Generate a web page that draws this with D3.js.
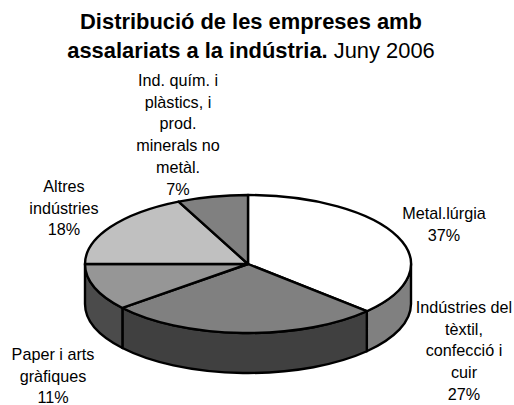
<!DOCTYPE html>
<html>
<head>
<meta charset="utf-8">
<script src="https://cdn.jsdelivr.net/npm/d3@7"></script>
<style>
  html, body { margin: 0; padding: 0; background: #fff; }
  text { font-family: "Liberation Sans", Arial, sans-serif; fill: #000; }
</style>
</head>
<body>
<svg id="vis" width="514" height="405"></svg>
<script>
const categories = ["Metal.lúrgia", "Indústries del tèxtil, confecció i cuir", "Paper i arts gràfiques", "Altres indústries", "Ind. quím. i plàstics, i prod. minerals no metàl."];
const values = [37, 27, 11, 18, 7];
const labelLines = [
  ["Metal.lúrgia", "37%"],
  ["Indústries del", "tèxtil,", "confecció i", "cuir", "27%"],
  ["Paper i arts", "gràfiques", "11%"],
  ["Altres", "indústries", "18%"],
  ["Ind. quím. i", "plàstics, i", "prod.", "minerals no", "metàl.", "7%"]
];
const topColors = ["#ffffff", "#808080", "#969696", "#c0c0c0", "#808080"];
const sideColors = ["#808080", "#404040", "#4b4b4b", "#606060", "#404040"];

const svg = d3.select("#vis");
const cx = 248, cy = 264, rx = 163, ry = 69, depth = 40;

const pie = d3.pie().sort(null).value(d => d);
const slices = pie(values);

function px(a) { return cx + rx * Math.sin(a); }
function py(a) { return cy - ry * Math.cos(a); }

// walls first, only the part of each slice facing the viewer
const walls = svg.append("g");
slices.forEach((s, i) => {
  let a0 = Math.max(s.startAngle, Math.PI / 2);
  let a1 = Math.min(s.endAngle, Math.PI * 1.5);
  if (a0 >= a1) return;
  let d = `M${px(a0)},${py(a0)} A${rx},${ry} 0 0 1 ${px(a1)},${py(a1)}` +
    ` L${px(a1)},${py(a1) + depth} A${rx},${ry} 0 0 0 ${px(a0)},${py(a0) + depth} Z`;
  walls.append("path")
    .attr("d", d)
    .attr("fill", sideColors[i])
    .attr("stroke", "#000")
    .attr("stroke-width", 2.4)
    .attr("stroke-linejoin", "round");
});

const tops = svg.append("g");
slices.forEach((s, i) => {
  let large = s.endAngle - s.startAngle > Math.PI ? 1 : 0;
  let d = `M${cx},${cy} L${px(s.startAngle)},${py(s.startAngle)}` +
    ` A${rx},${ry} 0 ${large} 1 ${px(s.endAngle)},${py(s.endAngle)} Z`;
  tops.append("path")
    .attr("d", d)
    .attr("fill", topColors[i])
    .attr("stroke", "#000")
    .attr("stroke-width", 2.4)
    .attr("stroke-linejoin", "round");
});

// title
const title = svg.append("g").attr("text-anchor", "middle");
title.append("text")
  .attr("x", 251).attr("y", 29)
  .attr("font-size", 21.9).attr("font-weight", "bold")
  .text("Distribució de les empreses amb");
let t2 = title.append("text")
  .attr("x", 251).attr("y", 58)
  .attr("font-size", 21.9);
t2.append("tspan").attr("font-weight", "bold").text("assalariats a la indústria.");
t2.append("tspan").text(" Juny 2006");

// label anchors: center x, first baseline
const labelAnchors = [[444, 219], [464, 313], [53, 360], [64, 192], [178, 86]];
const lineGap = 21.7;
labelLines.forEach((lines, i) => {
  let g = svg.append("text")
    .attr("text-anchor", "middle")
    .attr("font-size", 16.2);
  lines.forEach((l, j) => {
    g.append("tspan")
      .attr("x", labelAnchors[i][0])
      .attr("y", labelAnchors[i][1] + j * lineGap)
      .text(l);
  });
});
</script>
</body>
</html>
